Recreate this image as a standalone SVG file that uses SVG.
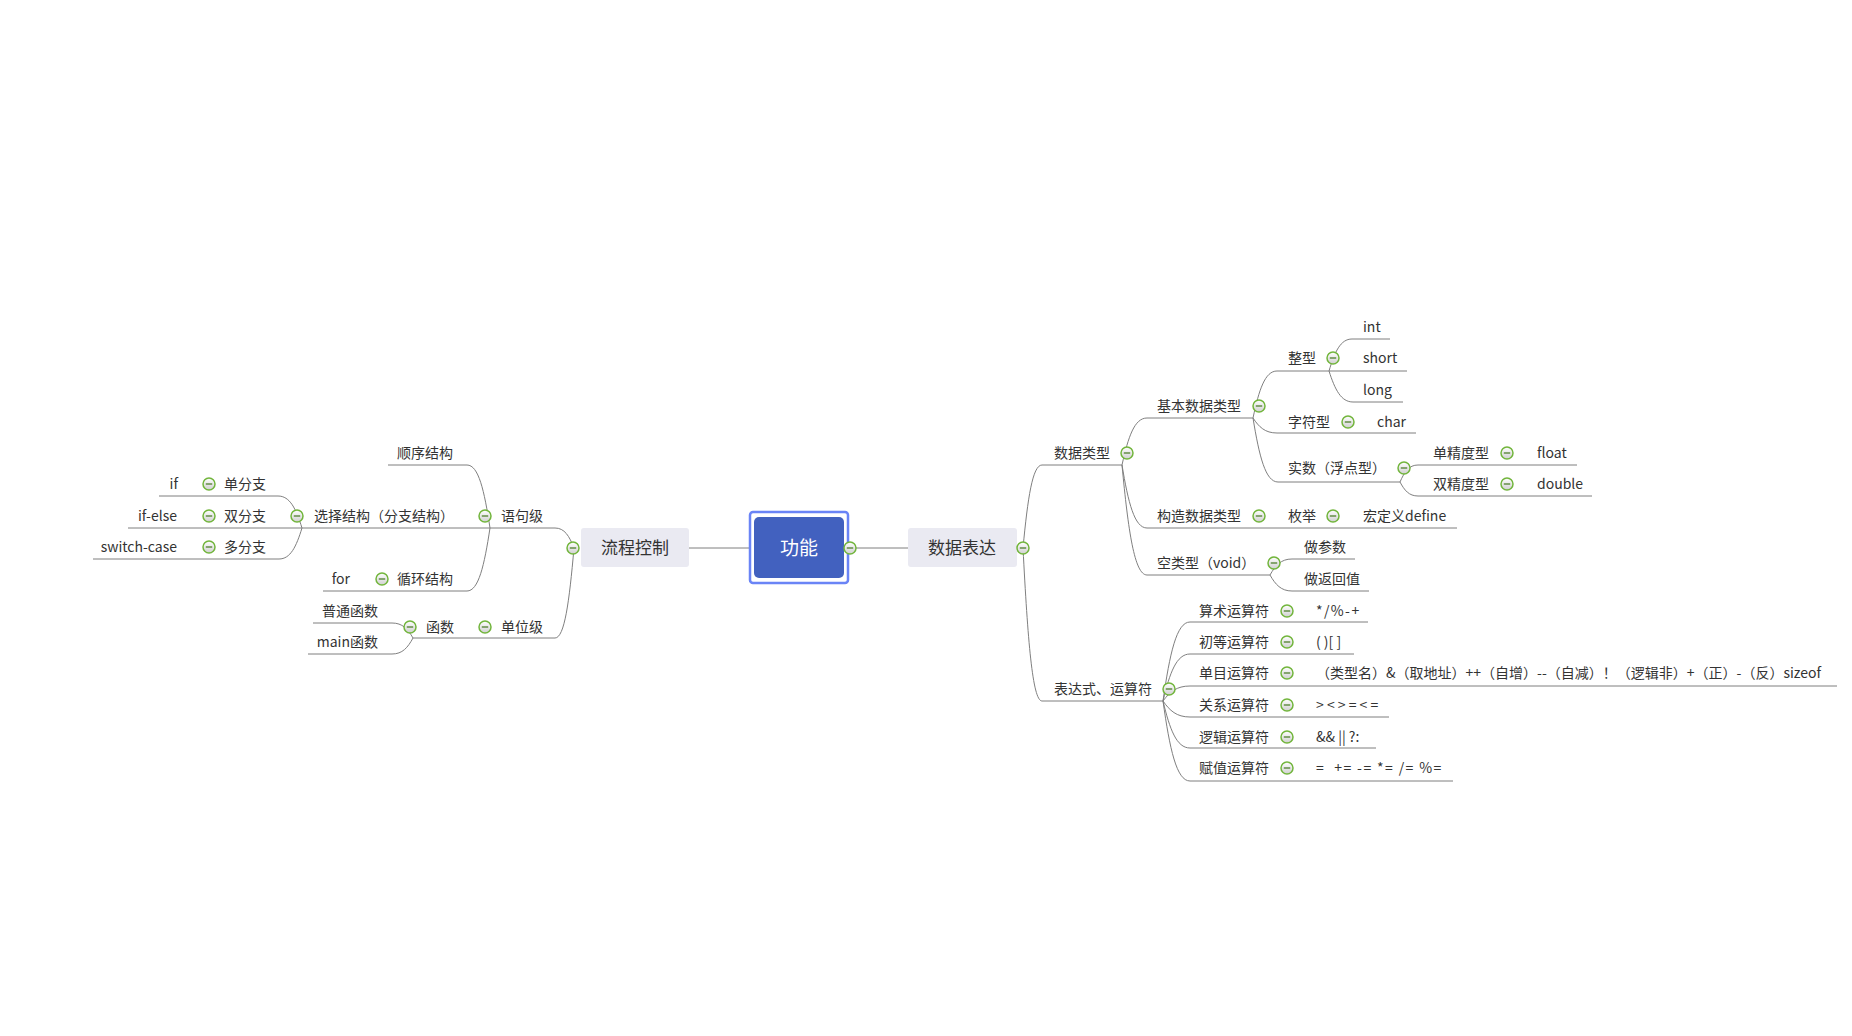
<svg xmlns="http://www.w3.org/2000/svg" xmlns:xlink="http://www.w3.org/1999/xlink" width="1852" height="1036" viewBox="0 0 1852 1036">
<style>
.t{font-family:"Noto Sans CJK SC","Noto Sans",sans-serif;font-size:14px;fill:#333}
.e{text-anchor:end}
.m{font-family:"Noto Sans CJK SC","Noto Sans",sans-serif;font-size:17px;fill:#333;text-anchor:middle}
.r{font-family:"Noto Sans CJK SC","Noto Sans",sans-serif;font-size:19px;fill:#fff;text-anchor:middle}
.u{stroke:#7f7f7f;stroke-width:1;fill:none}
.c{stroke:#7f7f7f;stroke-width:1;fill:none}
.box{fill:#eaeaf2}
.ls{letter-spacing:1.4px}
</style>
<defs>
<linearGradient id="tg" x1="0" y1="0" x2="0" y2="1">
<stop offset="0" stop-color="#ffffff"/>
<stop offset="1" stop-color="#d0d0d0"/>
</linearGradient>
<g id="tog">
<circle r="6" fill="url(#tg)" stroke="#72b53c" stroke-width="1.5"/>
<line x1="-3.2" y1="0" x2="3.2" y2="0" stroke="#4f7f2e" stroke-width="1.3"/>
</g>
</defs>
<rect width="1852" height="1036" fill="#fff"/>
<g id="connectors">
<line class="c" x1="689" y1="548" x2="749" y2="548"/>
<line class="c" x1="849" y1="548" x2="908" y2="548"/>
<path class="c" d="M574,548 C569.25,536 564.5,528 555,528"/>
<path class="c" d="M574,548 C569.25,602 564.5,638 555,638"/>
<path class="c" d="M490,528 C484.25,490.2 478.5,465 467,465"/>
<path class="c" d="M490,528 C484.25,565.8 478.5,591 467,591"/>
<path class="c" d="M413,638 C407.75,629 402.5,623 392,623"/>
<path class="c" d="M413,638 C407.75,647.6 402.5,654 392,654"/>
<path class="c" d="M302,528 C296,508.8 290,496 278,496"/>
<path class="c" d="M302,528 C296.25,546.6 290.5,559 279,559"/>
<path class="c" d="M1023,548 C1027.75,498.2 1032.5,465 1042,465"/>
<path class="c" d="M1023,548 C1027.75,639.8 1032.5,701 1042,701"/>
<path class="c" d="M1122,465 C1128.25,436.8 1134.5,418 1147,418"/>
<path class="c" d="M1122,465 C1128.25,502.8 1134.5,528 1147,528"/>
<path class="c" d="M1122,465 C1128.25,531 1134.5,575 1147,575"/>
<path class="c" d="M1253,418 C1259,389.8 1265,371 1277,371"/>
<path class="c" d="M1253,418 C1259,427 1265,433 1277,433"/>
<path class="c" d="M1253,418 C1259.25,456.4 1265.5,482 1278,482"/>
<path class="c" d="M1329,371 C1334.75,351.8 1340.5,339 1352,339"/>
<path class="c" d="M1329,371 C1335,389.6 1341,402 1353,402"/>
<path class="c" d="M1400,482 C1404.5,471.8 1409,465 1418,465"/>
<path class="c" d="M1400,482 C1404.5,490.4 1409,496 1418,496"/>
<path class="c" d="M1270,575 C1275.5,565.4 1281,559 1292,559"/>
<path class="c" d="M1270,575 C1275.5,584.6 1281,591 1292,591"/>
<path class="c" d="M1163,701 C1169.75,653.6 1176.5,622 1190,622"/>
<path class="c" d="M1163,701 C1169.75,672.8 1176.5,654 1190,654"/>
<path class="c" d="M1163,701 C1169.75,692 1176.5,686 1190,686"/>
<path class="c" d="M1163,701 C1169.75,710.6 1176.5,717 1190,717"/>
<path class="c" d="M1163,701 C1169.75,729.2 1176.5,748 1190,748"/>
<path class="c" d="M1163,701 C1169.75,749 1176.5,781 1190,781"/>
</g>
<g id="root">
<rect x="750" y="512" width="98" height="71" rx="3" fill="#fff" stroke="#6a84f6" stroke-width="2.5"/>
<rect x="754" y="517" width="90" height="61" rx="5" fill="#4261bf"/>
<text class="r" x="799" y="555">功能</text>
<use xlink:href="#tog" x="850" y="548"/>
</g>
<g id="n-liucheng">
<rect class="box" x="581" y="528" width="108" height="39" rx="3"/>
<text class="m" x="635" y="554">流程控制</text>
<use xlink:href="#tog" x="573" y="548"/>
</g>
<g id="n-shuju">
<rect class="box" x="908" y="528" width="109" height="39" rx="3"/>
<text class="m" x="962" y="554">数据表达</text>
<use xlink:href="#tog" x="1023" y="548"/>
</g>
<g id="n-yuju"><line class="u" x1="490" y1="528" x2="555" y2="528"/><text class="t e" x="543" y="521">语句级</text><use xlink:href="#tog" x="485" y="516"/></g>
<g id="n-danwei"><line class="u" x1="490" y1="638" x2="555" y2="638"/><text class="t e" x="543" y="632">单位级</text><use xlink:href="#tog" x="485" y="627"/></g>
<g id="n-hanshu"><line class="u" x1="413" y1="638" x2="490" y2="638"/><text class="t e" x="454" y="632">函数</text><use xlink:href="#tog" x="410" y="627"/></g>
<g id="n-putong"><line class="u" x1="313" y1="623" x2="392" y2="623"/><text class="t e" x="378" y="616">普通函数</text></g>
<g id="n-main"><line class="u" x1="308" y1="654" x2="392" y2="654"/><text class="t e" x="378" y="647">main函数</text></g>
<g id="n-shunxu"><line class="u" x1="388" y1="465" x2="467" y2="465"/><text class="t e" x="453" y="458">顺序结构</text></g>
<g id="n-xuanze"><line class="u" x1="302" y1="528" x2="490" y2="528"/><text class="t e" x="454" y="521">选择结构（分支结构）</text><use xlink:href="#tog" x="297" y="516"/></g>
<g id="n-xunhuan"><line class="u" x1="386" y1="591" x2="467" y2="591"/><text class="t e" x="453" y="584">循环结构</text><use xlink:href="#tog" x="382" y="579"/></g>
<g id="n-for"><line class="u" x1="323" y1="591" x2="386" y2="591"/><text class="t e" x="350" y="584">for</text></g>
<g id="n-dan"><line class="u" x1="213" y1="496" x2="278" y2="496"/><text class="t e" x="266" y="489">单分支</text><use xlink:href="#tog" x="209" y="484"/></g>
<g id="n-if"><line class="u" x1="159" y1="496" x2="213" y2="496"/><text class="t e" x="178" y="489">if</text></g>
<g id="n-shuang"><line class="u" x1="213" y1="528" x2="302" y2="528"/><text class="t e" x="266" y="521">双分支</text><use xlink:href="#tog" x="209" y="516"/></g>
<g id="n-ifelse"><line class="u" x1="128" y1="528" x2="213" y2="528"/><text class="t e" x="177" y="521">if-else</text></g>
<g id="n-duo"><line class="u" x1="213" y1="559" x2="279" y2="559"/><text class="t e" x="266" y="552">多分支</text><use xlink:href="#tog" x="209" y="547"/></g>
<g id="n-switch"><line class="u" x1="93" y1="559" x2="213" y2="559"/><text class="t e" x="177" y="552">switch-case</text></g>
<g id="n-leixing"><line class="u" x1="1042" y1="465" x2="1122" y2="465"/><text class="t" x="1054" y="458">数据类型</text><use xlink:href="#tog" x="1127" y="453"/></g>
<g id="n-biaodashi"><line class="u" x1="1042" y1="701" x2="1163" y2="701"/><text class="t" x="1054" y="694">表达式、运算符</text><use xlink:href="#tog" x="1169" y="689"/></g>
<g id="n-jiben"><line class="u" x1="1147" y1="418" x2="1253" y2="418"/><text class="t" x="1157" y="411">基本数据类型</text><use xlink:href="#tog" x="1259" y="406"/></g>
<g id="n-gouzao"><line class="u" x1="1147" y1="528" x2="1263" y2="528"/><text class="t" x="1157" y="521">构造数据类型</text><use xlink:href="#tog" x="1259" y="516"/></g>
<g id="n-meiju"><line class="u" x1="1263" y1="528" x2="1338" y2="528"/><text class="t" x="1288" y="521">枚举</text><use xlink:href="#tog" x="1333" y="516"/></g>
<g id="n-define"><line class="u" x1="1338" y1="528" x2="1457" y2="528"/><text class="t" x="1363" y="521">宏定义define</text></g>
<g id="n-kong"><line class="u" x1="1147" y1="575" x2="1270" y2="575"/><text class="t" x="1157" y="568">空类型（void）</text><use xlink:href="#tog" x="1274" y="563"/></g>
<g id="n-canshu"><line class="u" x1="1292" y1="559" x2="1355" y2="559"/><text class="t" x="1304" y="552">做参数</text></g>
<g id="n-fanhui"><line class="u" x1="1292" y1="591" x2="1369" y2="591"/><text class="t" x="1304" y="584">做返回值</text></g>
<g id="n-zheng"><line class="u" x1="1277" y1="371" x2="1329" y2="371"/><text class="t" x="1288" y="363">整型</text><use xlink:href="#tog" x="1333" y="358"/></g>
<g id="n-int"><line class="u" x1="1352" y1="339" x2="1390" y2="339"/><text class="t" x="1363" y="332">int</text></g>
<g id="n-short"><line class="u" x1="1329" y1="371" x2="1407" y2="371"/><text class="t" x="1363" y="363">short</text></g>
<g id="n-long"><line class="u" x1="1353" y1="402" x2="1403" y2="402"/><text class="t" x="1363" y="395">long</text></g>
<g id="n-zifu"><line class="u" x1="1277" y1="433" x2="1352" y2="433"/><text class="t" x="1288" y="427">字符型</text><use xlink:href="#tog" x="1348" y="422"/></g>
<g id="n-char"><line class="u" x1="1352" y1="433" x2="1416" y2="433"/><text class="t" x="1377" y="427">char</text></g>
<g id="n-shishu"><line class="u" x1="1278" y1="482" x2="1400" y2="482"/><text class="t" x="1288" y="473">实数（浮点型）</text><use xlink:href="#tog" x="1404" y="468"/></g>
<g id="n-danjing"><line class="u" x1="1418" y1="465" x2="1512" y2="465"/><text class="t" x="1433" y="458">单精度型</text><use xlink:href="#tog" x="1507" y="453"/></g>
<g id="n-float"><line class="u" x1="1512" y1="465" x2="1577" y2="465"/><text class="t" x="1537" y="458">float</text></g>
<g id="n-shuangjing"><line class="u" x1="1418" y1="496" x2="1512" y2="496"/><text class="t" x="1433" y="489">双精度型</text><use xlink:href="#tog" x="1507" y="484"/></g>
<g id="n-double"><line class="u" x1="1512" y1="496" x2="1592" y2="496"/><text class="t" x="1537" y="489">double</text></g>
<g id="n-suanshu"><line class="u" x1="1190" y1="622" x2="1292" y2="622"/><text class="t" x="1199" y="616">算术运算符</text><use xlink:href="#tog" x="1287" y="611"/></g>
<g id="n-suanshu-v"><line class="u" x1="1292" y1="622" x2="1368" y2="622"/><text class="t ls" x="1316" y="616">*/%-+</text></g>
<g id="n-chudeng"><line class="u" x1="1190" y1="654" x2="1292" y2="654"/><text class="t" x="1199" y="647">初等运算符</text><use xlink:href="#tog" x="1287" y="642"/></g>
<g id="n-chudeng-v"><line class="u" x1="1292" y1="654" x2="1354" y2="654"/><text class="t" x="1316" y="647">( )[ ]</text></g>
<g id="n-danmu"><line class="u" x1="1190" y1="686" x2="1292" y2="686"/><text class="t" x="1199" y="678">单目运算符</text><use xlink:href="#tog" x="1287" y="673"/></g>
<g id="n-danmu-v"><line class="u" x1="1292" y1="686" x2="1837" y2="686"/><text class="t" x="1316" y="678">（类型名）&amp;（取地址）++（自增）--（自减）！（逻辑非）+（正）-（反）sizeof</text></g>
<g id="n-guanxi"><line class="u" x1="1190" y1="717" x2="1292" y2="717"/><text class="t" x="1199" y="710">关系运算符</text><use xlink:href="#tog" x="1287" y="705"/></g>
<g id="n-guanxi-v"><line class="u" x1="1292" y1="717" x2="1389" y2="717"/><text class="t" x="1316" y="710">&gt; &lt; &gt; = &lt; =</text></g>
<g id="n-luoji"><line class="u" x1="1190" y1="748" x2="1292" y2="748"/><text class="t" x="1199" y="742">逻辑运算符</text><use xlink:href="#tog" x="1287" y="737"/></g>
<g id="n-luoji-v"><line class="u" x1="1292" y1="748" x2="1376" y2="748"/><text class="t" x="1316" y="742">&amp;&amp; || ?:</text></g>
<g id="n-fuzhi"><line class="u" x1="1190" y1="781" x2="1292" y2="781"/><text class="t" x="1199" y="773">赋值运算符</text><use xlink:href="#tog" x="1287" y="768"/></g>
<g id="n-fuzhi-v"><line class="u" x1="1292" y1="781" x2="1453" y2="781"/><text class="t ls" x="1316" y="773" xml:space="preserve">=  += -= *= /= %=</text></g>
</svg>
